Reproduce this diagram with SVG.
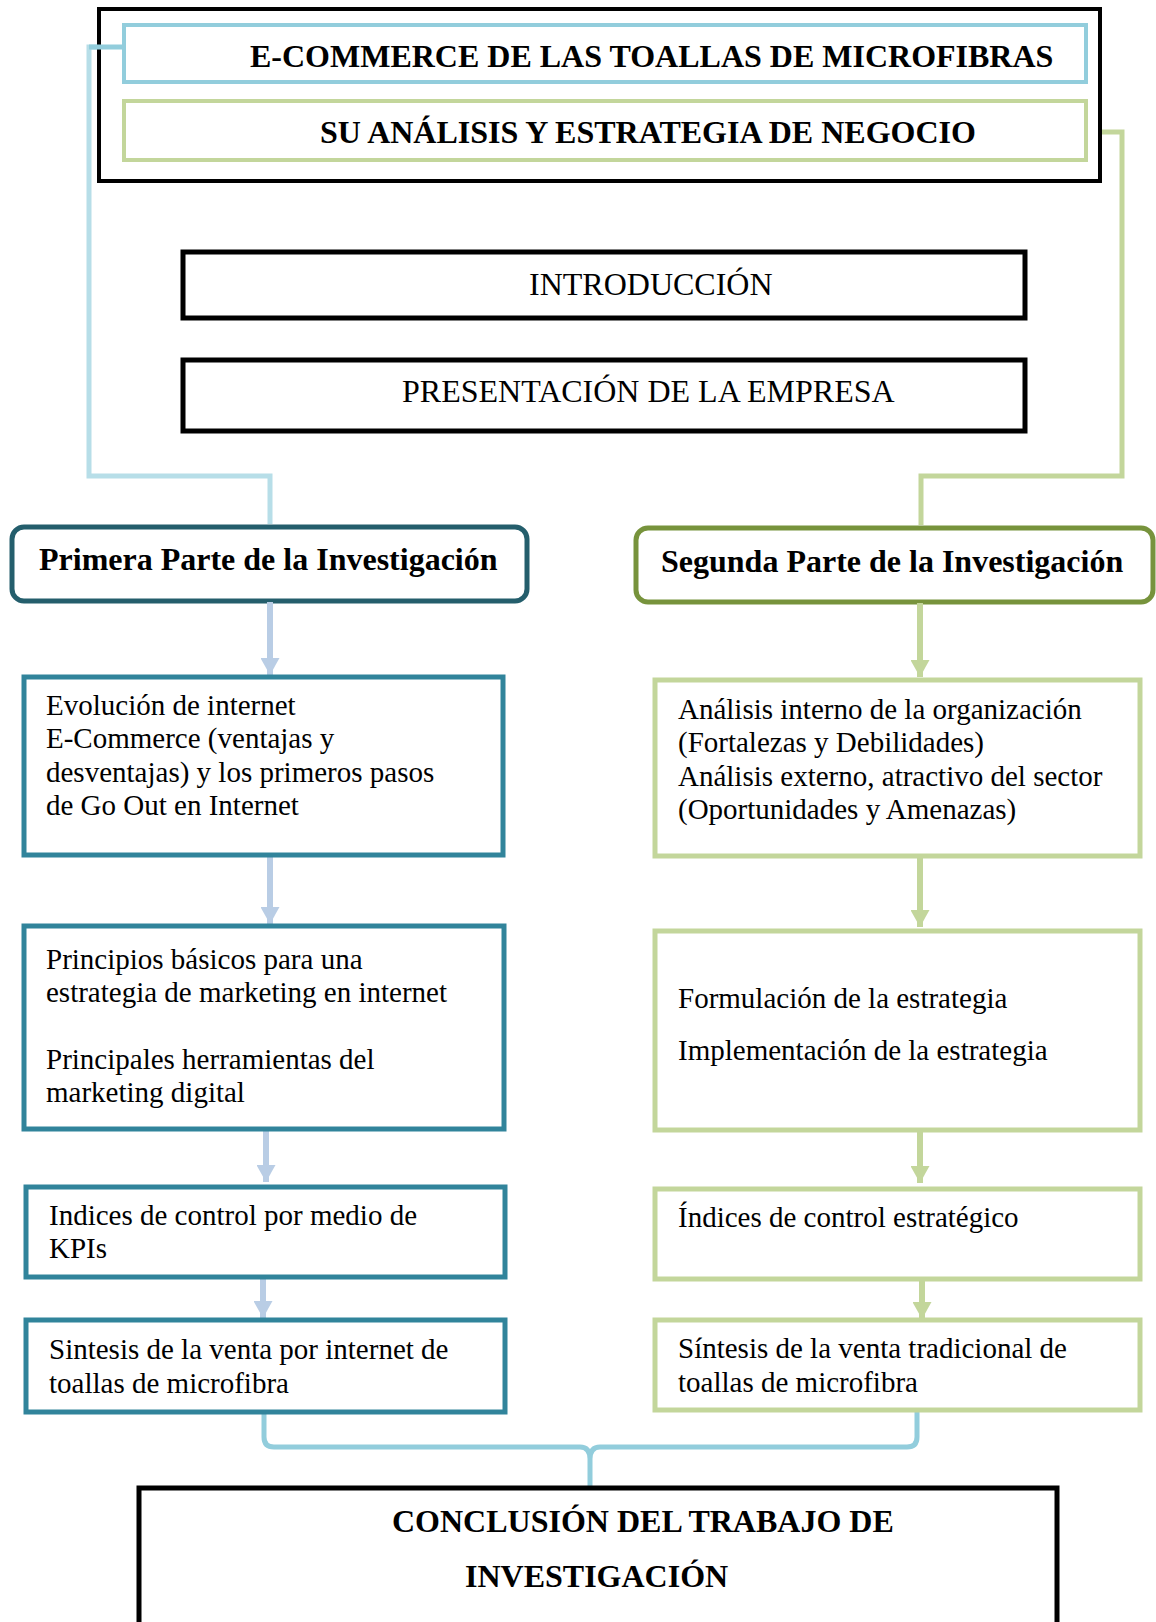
<svg xmlns="http://www.w3.org/2000/svg" width="1156" height="1622" viewBox="0 0 1156 1622">
<defs>
<style>
text{font-family:"Liberation Serif","Times New Roman",serif;fill:#000}
.t{font-size:29px}
.h{font-size:32px}
.b{font-size:32px;font-weight:bold}
.lb{fill:#fff;stroke:#31849B;stroke-width:5}
.rb{fill:#fff;stroke:#C3D69B;stroke-width:5}
.blk{fill:#fff;stroke:#000;stroke-width:5}
.la{stroke:#B9CDE5;stroke-width:6;fill:none}
.ra{stroke:#C3D69B;stroke-width:6;fill:none}
</style>
<marker id="ah" viewBox="0 0 17 19" refX="17" refY="9.5" markerWidth="17" markerHeight="19" markerUnits="userSpaceOnUse" orient="auto">
<path d="M0,0 L17,9.5 L0,19 Z" fill="#B9CDE5"/>
</marker>
<marker id="ahg" viewBox="0 0 17 19" refX="17" refY="9.5" markerWidth="17" markerHeight="19" markerUnits="userSpaceOnUse" orient="auto">
<path d="M0,0 L17,9.5 L0,19 Z" fill="#C3D69B"/>
</marker>
</defs>
<rect width="1156" height="1622" fill="#fff"/>

<g id="connectors">
<path d="M124,47 L89,47 L89,476 L270,476 L270,524" stroke="#B7DEE8" stroke-width="5" fill="none"/>
<path d="M1086,132 L1122,132 L1122,476 L921,476 L921,525" stroke="#C3D69B" stroke-width="5" fill="none"/>
<path d="M264,1412 L264,1437 Q264,1447 274,1447 L580,1447 Q590,1447 590,1459 L590,1487 M590,1459 Q590,1447 600,1447 L907,1447 Q917,1447 917,1437 L917,1412" stroke="#92CDDC" stroke-width="5" fill="none"/>
</g>

<g id="title">
<rect x="99" y="9" width="1001" height="172" fill="#fff" stroke="#000" stroke-width="4"/>
</g>
<g id="title1">
<rect x="124" y="25" width="962" height="57" fill="#fff" stroke="#92CDDC" stroke-width="4"/>
<text class="b" x="250" y="67">E-COMMERCE DE LAS TOALLAS DE MICROFIBRAS</text>
</g>
<g id="title2">
<rect x="124" y="101" width="962" height="59" fill="#fff" stroke="#C3D69B" stroke-width="4"/>
<text class="b" x="320" y="143">SU ANÁLISIS Y ESTRATEGIA DE NEGOCIO</text>
</g>
<path d="M89,47 L124,47" stroke="#92CDDC" stroke-width="5"/>

<g id="intro">
<rect class="blk" x="183" y="252" width="842" height="66"/>
<text class="h" x="529" y="295">INTRODUCCIÓN</text>
</g>
<g id="presentacion">
<rect class="blk" x="183" y="360" width="842" height="71"/>
<text class="h" x="402" y="402">PRESENTACIÓN DE LA EMPRESA</text>
</g>

<g id="primera">
<rect x="12" y="527" width="515" height="74" rx="12" fill="#fff" stroke="#245E6C" stroke-width="5"/>
<text class="b" x="39" y="570">Primera Parte de la Investigación</text>
</g>
<g id="segunda">
<rect x="636" y="528" width="517" height="74" rx="12" fill="#fff" stroke="#77933C" stroke-width="5"/>
<text class="b" x="661" y="572">Segunda Parte de la Investigación</text>
</g>

<g id="arrows">
<path class="la" d="M270,602 L270,675" marker-end="url(#ah)"/>
<path class="la" d="M270,857 L270,924" marker-end="url(#ah)"/>
<path class="la" d="M266,1131 L266,1182" marker-end="url(#ah)"/>
<path class="la" d="M263,1279 L263,1318" marker-end="url(#ah)"/>
<path class="ra" d="M920,603 L920,677" marker-end="url(#ahg)"/>
<path class="ra" d="M920,858 L920,927" marker-end="url(#ahg)"/>
<path class="ra" d="M920,1132 L920,1183" marker-end="url(#ahg)"/>
<path class="ra" d="M922,1281 L922,1319" marker-end="url(#ahg)"/>
</g>

<g id="box1">
<rect class="lb" x="24" y="677" width="479" height="178"/>
<text class="t" x="46" y="715">Evolución de internet</text>
<text class="t" x="46" y="748">E-Commerce (ventajas y</text>
<text class="t" x="46" y="782">desventajas) y los primeros pasos</text>
<text class="t" x="46" y="815">de Go Out en Internet</text>
</g>
<g id="box2">
<rect class="lb" x="24" y="926" width="480" height="203"/>
<text class="t" x="46" y="969">Principios básicos para una</text>
<text class="t" x="46" y="1002">estrategia de marketing en internet</text>
<text class="t" x="46" y="1069">Principales herramientas del</text>
<text class="t" x="46" y="1102">marketing digital</text>
</g>
<g id="box3">
<rect class="lb" x="26" y="1187" width="479" height="90"/>
<text class="t" x="49" y="1225">Indices de control por medio de</text>
<text class="t" x="49" y="1258">KPIs</text>
</g>
<g id="box4">
<rect class="lb" x="26" y="1320" width="479" height="92"/>
<text class="t" x="49" y="1359">Sintesis de la venta por internet de</text>
<text class="t" x="49" y="1393">toallas de microfibra</text>
</g>

<g id="box5">
<rect class="rb" x="655" y="680" width="485" height="176"/>
<text class="t" x="678" y="719">Análisis interno de la organización</text>
<text class="t" x="678" y="752">(Fortalezas y Debilidades)</text>
<text class="t" x="678" y="786">Análisis externo, atractivo del sector</text>
<text class="t" x="678" y="819">(Oportunidades y Amenazas)</text>
</g>
<g id="box6">
<rect class="rb" x="655" y="931" width="485" height="199"/>
<text class="t" x="678" y="1008">Formulación de la estrategia</text>
<text class="t" x="678" y="1060">Implementación de la estrategia</text>
</g>
<g id="box7">
<rect class="rb" x="655" y="1189" width="485" height="90"/>
<text class="t" x="678" y="1227">Índices de control estratégico</text>
</g>
<g id="box8">
<rect class="rb" x="655" y="1320" width="485" height="90"/>
<text class="t" x="678" y="1358">Síntesis de la venta tradicional de</text>
<text class="t" x="678" y="1392">toallas de microfibra</text>
</g>

<g id="conclusion">
<rect x="139" y="1488" width="918" height="200" fill="#fff" stroke="#000" stroke-width="5"/>
<text class="b" x="392" y="1532">CONCLUSIÓN DEL TRABAJO DE</text>
<text class="b" x="465" y="1587">INVESTIGACIÓN</text>
</g>
</svg>
